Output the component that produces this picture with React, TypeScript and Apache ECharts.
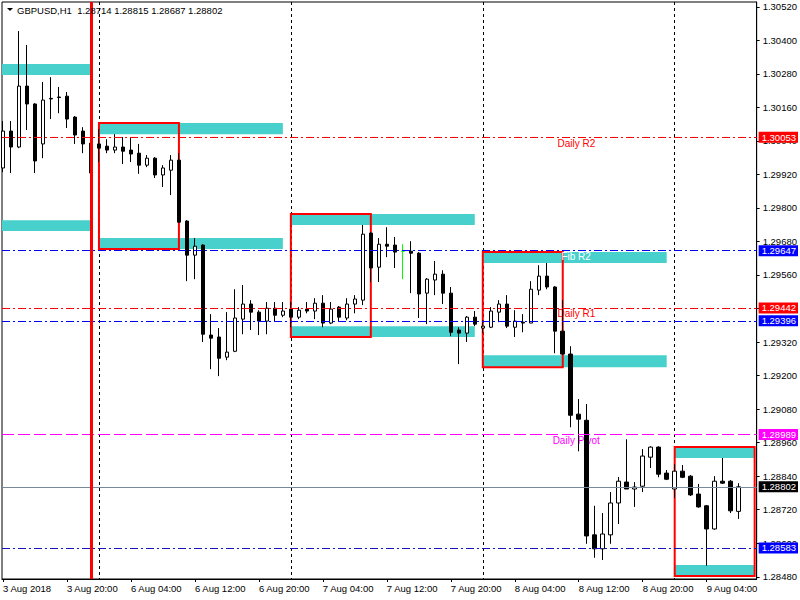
import React, { useEffect, useRef } from 'react';
import * as echarts from 'echarts';

// ---- H1 candles (bar index 0 = 3 Aug 12:00 ... 92 = 9 Aug 08:00) ----
const openPrices = [
  1.29943, 1.30075, 1.30018, 1.30236, 1.30172, 1.30029, 1.30192, 1.30197, 1.30200, 1.30125,
  1.30075, 1.30032, 1.30029, 1.30021, 1.30007, 1.30018, 1.30007, 1.29996, 1.29953, 1.29978,
  1.29918, 1.29935, 1.29971, 1.29753, 1.29631, 1.29667, 1.29345, 1.29338, 1.29266, 1.29287,
  1.29402, 1.29456, 1.29427, 1.29395, 1.29441, 1.29416, 1.29438, 1.29409, 1.29438, 1.29431,
  1.29459, 1.29388, 1.29445, 1.29406, 1.29456, 1.29470, 1.29710, 1.29588, 1.29670, 1.29667,
  1.29645, 1.29645, 1.29638, 1.29495, 1.29542, 1.29563, 1.29495, 1.29363, 1.29352, 1.29409,
  1.29370, 1.29373, 1.29427, 1.29456, 1.29373, 1.29391, 1.29388, 1.29506, 1.29556, 1.29517,
  1.29359, 1.29277, 1.29062, 1.29040, 1.28630, 1.28580, 1.28630, 1.28744, 1.28819, 1.28794,
  1.28804, 1.28908, 1.28944, 1.28851, 1.28794, 1.28858, 1.28840, 1.28776, 1.28734, 1.28651,
  1.28822, 1.28822, 1.28714,
];
const highPrices = [
  1.30111, 1.30111, 1.30433, 1.30383, 1.30175, 1.30251, 1.30268, 1.30233, 1.30215, 1.30129,
  1.30089, 1.30039, 1.30082, 1.30046, 1.30064, 1.30054, 1.30050, 1.30029, 1.29989, 1.29982,
  1.29953, 1.29989, 1.29996, 1.29756, 1.29692, 1.29670, 1.29420, 1.29370, 1.29427, 1.29509,
  1.29524, 1.29470, 1.29434, 1.29463, 1.29463, 1.29463, 1.29463, 1.29445, 1.29463, 1.29477,
  1.29488, 1.29463, 1.29449, 1.29477, 1.29488, 1.29739, 1.29713, 1.29692, 1.29731, 1.29696,
  1.29670, 1.29681, 1.29642, 1.29549, 1.29610, 1.29577, 1.29517, 1.29373, 1.29413, 1.29431,
  1.29398, 1.29445, 1.29470, 1.29488, 1.29434, 1.29420, 1.29538, 1.29595, 1.29603, 1.29520,
  1.29470, 1.29305, 1.29116, 1.29098, 1.28734, 1.28708, 1.28783, 1.28837, 1.28972, 1.28819,
  1.28937, 1.28947, 1.28947, 1.28862, 1.28883, 1.28880, 1.28844, 1.28812, 1.28737, 1.28840,
  1.28905, 1.28826, 1.28815,
];
const lowPrices = [
  1.29928, 1.29925, 1.30014, 1.30079, 1.29925, 1.29978, 1.30118, 1.30139, 1.30086, 1.30029,
  1.29996, 1.29922, 1.29964, 1.29996, 1.29996, 1.29957, 1.29964, 1.29922, 1.29946, 1.29907,
  1.29875, 1.29846, 1.29746, 1.29538, 1.29545, 1.29320, 1.29223, 1.29198, 1.29255, 1.29284,
  1.29348, 1.29363, 1.29345, 1.29348, 1.29395, 1.29409, 1.29373, 1.29402, 1.29423, 1.29402,
  1.29373, 1.29384, 1.29395, 1.29398, 1.29423, 1.29452, 1.29535, 1.29535, 1.29624, 1.29585,
  1.29545, 1.29495, 1.29406, 1.29384, 1.29488, 1.29456, 1.29341, 1.29241, 1.29320, 1.29377,
  1.29352, 1.29370, 1.29391, 1.29370, 1.29338, 1.29355, 1.29388, 1.29488, 1.29509, 1.29280,
  1.29273, 1.29015, 1.28929, 1.28598, 1.28548, 1.28540, 1.28598, 1.28669, 1.28794, 1.28730,
  1.28783, 1.28869, 1.28836, 1.28826, 1.28762, 1.28833, 1.28769, 1.28727, 1.28519, 1.28648,
  1.28812, 1.28708, 1.28687,
];
const closePrices = [
  1.30075, 1.30018, 1.30236, 1.30172, 1.29968, 1.30186, 1.30190, 1.30195, 1.30118, 1.30061,
  1.30029, 1.29925, 1.30014, 1.30007, 1.30018, 1.30003, 1.29993, 1.29953, 1.29978, 1.29918,
  1.29943, 1.29971, 1.29749, 1.29631, 1.29663, 1.29348, 1.29334, 1.29262, 1.29284, 1.29406,
  1.29456, 1.29427, 1.29395, 1.29441, 1.29416, 1.29431, 1.29409, 1.29434, 1.29431, 1.29459,
  1.29388, 1.29438, 1.29409, 1.29456, 1.29474, 1.29706, 1.29585, 1.29670, 1.29663, 1.29642,
  1.29645, 1.29638, 1.29492, 1.29545, 1.29563, 1.29495, 1.29355, 1.29352, 1.29409, 1.29384,
  1.29377, 1.29431, 1.29456, 1.29377, 1.29395, 1.29388, 1.29509, 1.29556, 1.29517, 1.29359,
  1.29277, 1.29058, 1.29044, 1.28626, 1.28580, 1.28633, 1.28744, 1.28822, 1.28794, 1.28801,
  1.28912, 1.28944, 1.28847, 1.28829, 1.28858, 1.28836, 1.28773, 1.28730, 1.28651, 1.28822,
  1.28815, 1.28716, 1.28802,
];

// ---- axes ----
const timeLabels = ['3 Aug 2018', '3 Aug 20:00', '6 Aug 04:00', '6 Aug 12:00', '6 Aug 20:00', '7 Aug 04:00',
  '7 Aug 12:00', '7 Aug 20:00', '8 Aug 04:00', '8 Aug 12:00', '8 Aug 20:00', '9 Aug 04:00'];
const timeLabelBars = [0, 8, 16, 24, 32, 40, 48, 56, 64, 72, 80, 88];
const priceTicks = [1.2848, 1.2860, 1.2872, 1.2884, 1.2896, 1.2908, 1.2920, 1.2932, 1.2944, 1.2956,
  1.2968, 1.2980, 1.2992, 1.3004, 1.3016, 1.3028, 1.3040, 1.3052];
const daySeparatorBars = [12, 36, 60, 84];
const redVerticalBar = 11;

// ---- zones (bar range, price range) ----
const zoneStartBars = [-0.125, -0.125, 12, 12, 36, 36, 60, 60, 84, 84];
const zoneEndBars = [11, 11, 35, 35, 59, 59, 83, 83, 94, 94];
const zoneTops = [1.30315, 1.29756, 1.30104, 1.29692, 1.29778, 1.29377, 1.29642, 1.29273, 1.28944, 1.28522];
const zoneBottoms = [1.30276, 1.29717, 1.30064, 1.29653, 1.29739, 1.29338, 1.29603, 1.29230, 1.28905, 1.28483];

const boxStartBars = [12, 36, 60, 84];
const boxEndBars = [22, 46, 70, 94];
const boxTops = [1.30104, 1.29778, 1.29642, 1.28944];
const boxBottoms = [1.29653, 1.29338, 1.29230, 1.28483];

// ---- horizontal levels ----
const levelPrices = [1.30053, 1.29647, 1.29442, 1.29396, 1.28989, 1.28802, 1.28583];
const levelTexts = ['Daily R2', 'Fib R2', 'Daily R1', '', 'Daily Pivot', '', ''];
const levelTextBars = [69.4, 69.9, 69.4, 0, 68.8, 0, 0];

const FONT = "'Liberation Sans', Arial, sans-serif";
const DASHDOT = [8, 3, 2, 3];
const levelStyles = [
  { line: '#ff0000', tag: '#ff0000', type: DASHDOT, text: '#ff0000' },
  { line: '#0000ff', tag: '#0000ff', type: DASHDOT, text: '#ffffff' },
  { line: '#ff0000', tag: '#ff0000', type: DASHDOT, text: '#ff0000' },
  { line: '#0000ff', tag: '#0000ff', type: DASHDOT, text: '#0000ff' },
  { line: '#ff00ff', tag: '#ff00ff', type: [12, 4], text: '#ff00ff' },
  { line: '#778899', tag: '#000000', type: 'solid', text: '#000000' },
  { line: '#1414b4', tag: '#0000ff', type: DASHDOT, text: '#0000ff' },
];

const X_MIN = -0.125;
const X_MAX = 94.25;

function buildOption() {
  const candleData = openPrices.map((o, i) => {
    const v = [i, o, closePrices[i], lowPrices[i], highPrices[i]];
    if (o === closePrices[i]) {
      return {
        value: v,
        itemStyle: { color: '#00ff00', color0: '#00ff00', borderColor: '#00ff00', borderColor0: '#00ff00', borderColorDoji: '#00ff00' },
      };
    }
    return v;
  });

  const last = openPrices.length - 1;
  const header = `GBPUSD,H1\u00a0 ${openPrices[last].toFixed(5)} ${highPrices[last].toFixed(5)} ${lowPrices[last].toFixed(5)} ${closePrices[last].toFixed(5)}`;

  const zoneAreas = zoneStartBars.map((s, k) => [
    { xAxis: s, yAxis: zoneTops[k], itemStyle: { color: '#48d1cc', borderWidth: 0 } },
    { xAxis: zoneEndBars[k], yAxis: zoneBottoms[k] },
  ]);
  const boxAreas = boxStartBars.map((s, k) => [
    { xAxis: s, yAxis: boxTops[k], itemStyle: { color: 'rgba(0,0,0,0)', borderColor: '#ff0000', borderWidth: 2 } },
    { xAxis: boxEndBars[k], yAxis: boxBottoms[k] },
  ]);

  const hLines = levelPrices.map((p, k) => ({
    yAxis: p,
    lineStyle: { color: levelStyles[k].line, type: levelStyles[k].type, width: 1 },
    label: {
      show: true,
      position: 'end',
      distance: 2,
      formatter: () => p.toFixed(5),
      color: '#ffffff',
      backgroundColor: levelStyles[k].tag,
      padding: [1, 2, 0, 3],
      lineHeight: 10,
      fontSize: 9.5,
      fontFamily: FONT,
    },
  }));

  const texts = levelTexts
    .map((t, k) => ({ t, k }))
    .filter((d) => d.t !== '')
    .map(({ t, k }) => ({
      coord: [levelTextBars[k], levelPrices[k]],
      symbol: 'rect',
      symbolSize: 1,
      itemStyle: { color: 'rgba(0,0,0,0)' },
      label: {
        show: true,
        formatter: t,
        position: [0, 1.5],
        align: 'left',
        verticalAlign: 'top',
        color: levelStyles[k].text,
        fontSize: 10,
        fontFamily: FONT,
      },
    }));

  return {
    animation: false,
    backgroundColor: '#ffffff',
    textStyle: { fontFamily: FONT },
    title: {
      text: header,
      left: 17,
      top: 5,
      padding: 0,
      textStyle: { fontSize: 9.5, fontWeight: 'normal', color: '#000', fontFamily: FONT },
    },
    graphic: [
      { type: 'polygon', shape: { points: [[7, 8], [13, 8], [10, 11]] }, style: { fill: '#000' } },
    ],
    grid: { left: 2, top: 2, right: 43, bottom: 21, show: true, borderColor: '#000', borderWidth: 1, backgroundColor: 'transparent' },
    xAxis: [
      {
        type: 'value',
        min: X_MIN,
        max: X_MAX,
        splitLine: { show: false },
        axisLine: { show: true, onZero: false, lineStyle: { color: '#000', width: 1 } },
        axisTick: { show: true, customValues: timeLabelBars, length: 3, lineStyle: { color: '#000' } },
        axisLabel: {
          customValues: timeLabelBars,
          formatter: (v: number) => timeLabels[timeLabelBars.indexOf(Math.round(v))] ?? '',
          align: 'left',
          margin: 4,
          fontSize: 9.5,
          color: '#000',
          fontFamily: FONT,
        },
      },
      {
        type: 'value',
        min: X_MIN,
        max: X_MAX,
        position: 'bottom',
        axisLine: { show: false },
        axisLabel: { show: false },
        axisTick: { show: false, customValues: daySeparatorBars },
        splitLine: { show: true, lineStyle: { color: '#000', type: [3, 3], width: 1 } },
      },
    ],
    yAxis: {
      type: 'value',
      position: 'right',
      min: 1.28472,
      max: 1.30537,
      splitLine: { show: false },
      axisLine: { show: true, onZero: false, lineStyle: { color: '#000', width: 1 } },
      axisTick: { show: true, customValues: priceTicks, length: 3, lineStyle: { color: '#000' } },
      axisLabel: {
        customValues: priceTicks,
        formatter: (v: number) => v.toFixed(5),
        margin: 6,
        fontSize: 9.5,
        color: '#000',
        fontFamily: FONT,
      },
    },
    series: [
      {
        type: 'candlestick',
        xAxisIndex: 0,
        data: candleData,
        encode: { x: 0, y: [1, 2, 3, 4] },
        barWidth: 4,
        clip: true,
        silent: true,
        itemStyle: { color: '#ffffff', color0: '#000000', borderColor: '#000000', borderColor0: '#000000', borderWidth: 1 },
        markArea: { silent: true, label: { show: false }, data: [...zoneAreas, ...boxAreas] },
        markPoint: { silent: true, z: 1, data: texts },
      },
      {
        type: 'line',
        xAxisIndex: 0,
        data: [],
        silent: true,
        markLine: {
          silent: true,
          symbol: ['none', 'none'],
          precision: 5,
          data: [
            ...hLines,
            {
              xAxis: redVerticalBar,
              lineStyle: { color: '#ff0000', type: 'solid', width: 3 },
              label: { show: false },
            },
          ],
        },
      },
    ],
  };
}

export default function App() {
  const ref = useRef<HTMLDivElement>(null);
  useEffect(() => {
    const chart = echarts.init(ref.current as HTMLDivElement, undefined, { renderer: 'svg' });
    chart.setOption(buildOption() as any);
    return () => chart.dispose();
  }, []);
  return (
    <div
      ref={ref}
      style={{ position: 'fixed', left: 0, top: 0, width: 800, height: 600, background: '#fff' }}
    />
  );
}
